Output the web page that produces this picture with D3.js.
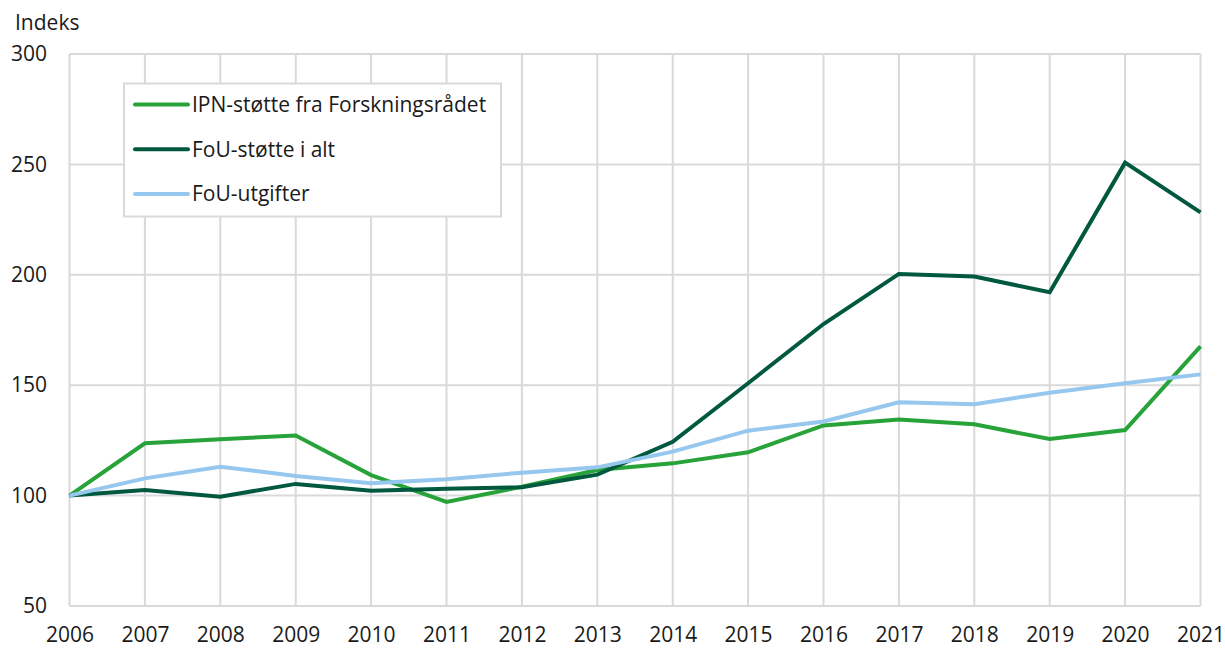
<!DOCTYPE html>
<html>
<head>
<meta charset="utf-8">
<script src="https://cdn.jsdelivr.net/npm/d3@7"></script>
<style>
  html, body { margin: 0; padding: 0; background: #fff; }
  svg { display: block; font-family: "Open Sans", "Noto Sans", sans-serif; }
</style>
</head>
<body>
<svg id="chart" width="1225" height="648"></svg>
<script>
const years = [2006, 2007, 2008, 2009, 2010, 2011, 2012, 2013, 2014, 2015, 2016, 2017, 2018, 2019, 2020, 2021];
const ipnStotte = [100, 123.7, 125.5, 127.2, 109.3, 97.1, 104.0, 111.6, 114.6, 119.6, 131.8, 134.5, 132.3, 125.6, 129.7, 167.6];
const fouStotte = [100, 102.5, 99.5, 105.3, 102.2, 103.1, 103.8, 109.5, 124.4, 150.9, 177.7, 200.4, 199.2, 192.1, 250.8, 228.3];
const fouUtgifter = [100, 107.8, 113.1, 108.9, 105.6, 107.4, 110.4, 112.8, 119.9, 129.4, 133.6, 142.3, 141.4, 146.6, 150.9, 154.9];
const seriesNames = ["IPN-støtte fra Forskningsrådet", "FoU-støtte i alt", "FoU-utgifter"];
const seriesColors = ["#27a33a", "#00583f", "#96c7ee"];
const yTicks = [50, 100, 150, 200, 250, 300];
const yLabel = "Indeks";

const seriesData = [ipnStotte, fouStotte, fouUtgifter];

const svg = d3.select("#chart");
const mLeft = 69.5, mRight = 1200.5, mTop = 54, mBottom = 606;
const fs = 21;

const x = d3.scaleLinear().domain([years[0], years[years.length - 1]]).range([mLeft, mRight]);
const y = d3.scaleLinear().domain([50, 300]).range([mBottom, mTop]);

const grid = "#d9d9d9";

// vertical gridlines
svg.append("g").selectAll("line").data(years).join("line")
  .attr("x1", d => x(d)).attr("x2", d => x(d))
  .attr("y1", mTop).attr("y2", mBottom)
  .attr("stroke", grid).attr("stroke-width", 2);

// horizontal gridlines
svg.append("g").selectAll("line").data(yTicks).join("line")
  .attr("x1", mLeft).attr("x2", mRight)
  .attr("y1", d => y(d)).attr("y2", d => y(d))
  .attr("stroke", grid).attr("stroke-width", 2);

// y axis labels
const yAxis = d3.axisLeft(y).tickValues(yTicks).tickSize(0).tickPadding(0).tickFormat(d3.format("d"));
const gy = svg.append("g").attr("transform", "translate(47,0)").call(yAxis);
gy.select(".domain").remove();
gy.selectAll("text").attr("font-size", fs).attr("fill", "#1a1a1a")
  .attr("font-family", "'Open Sans', sans-serif");

// x axis labels
const xAxis = d3.axisBottom(x).tickValues(years).tickSize(0).tickPadding(0).tickFormat(d3.format("d"));
const gx = svg.append("g").attr("transform", "translate(0,627)").call(xAxis);
gx.select(".domain").remove();
gx.selectAll("text").attr("font-size", fs).attr("fill", "#1a1a1a")
  .attr("font-family", "'Open Sans', sans-serif");

// y label
svg.append("text").attr("x", 15).attr("y", 30).attr("font-size", fs).attr("fill", "#1a1a1a")
  .text(yLabel);

// lines
const line = d3.line().x((d, i) => x(years[i])).y(d => y(d));
seriesData.forEach((s, k) => {
  svg.append("path").datum(s)
    .attr("d", line)
    .attr("fill", "none")
    .attr("stroke", seriesColors[k])
    .attr("stroke-width", 4)
    .attr("stroke-linejoin", "miter");
});

// legend
const lg = svg.append("g");
lg.append("rect").attr("x", 124).attr("y", 83.5).attr("width", 377).attr("height", 133)
  .attr("fill", "#fff").attr("stroke", grid).attr("stroke-width", 2);
seriesNames.forEach((name, k) => {
  const ly = 104.5 + k * 44.8;
  lg.append("line").attr("x1", 135).attr("x2", 188).attr("y1", ly).attr("y2", ly)
    .attr("stroke", seriesColors[k]).attr("stroke-width", 4).attr("stroke-linecap", "round");
  lg.append("text").attr("x", 192).attr("y", ly).attr("dy", "0.35em")
    .attr("font-size", fs).attr("fill", "#1a1a1a").text(name);
});
</script>
</body>
</html>
